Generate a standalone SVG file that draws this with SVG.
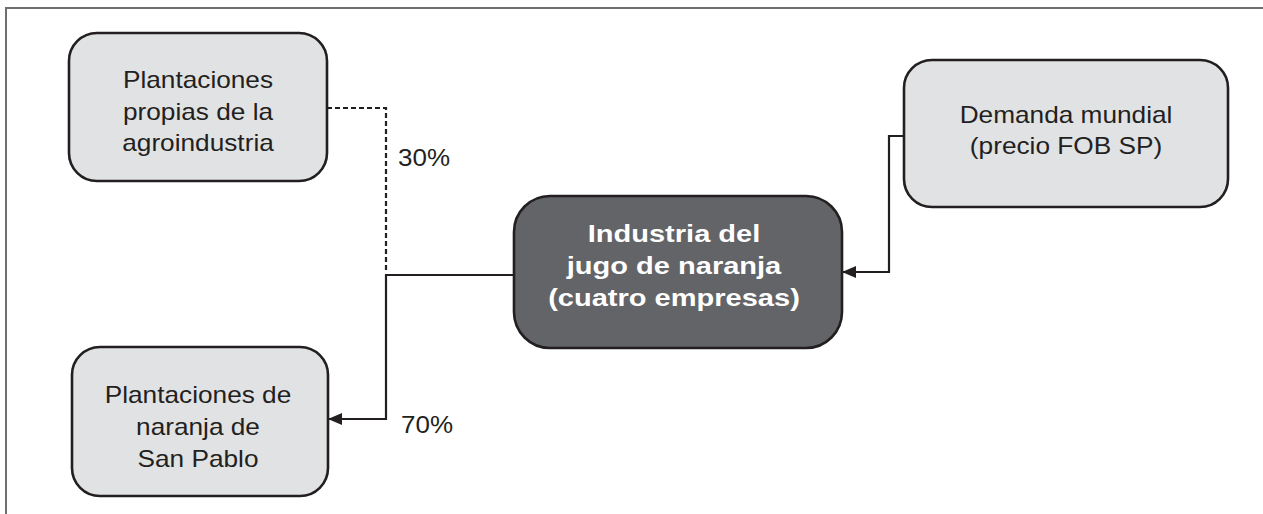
<svg xmlns="http://www.w3.org/2000/svg" width="1263" height="514" viewBox="0 0 1263 514">
<defs>
<style>
.frame{fill:none;stroke:#6d6e70;stroke-width:2}
.light{fill:#e1e2e4;stroke:#231f20;stroke-width:2.6}
.dark{fill:#636467;stroke:#231f20;stroke-width:2.6}
.t{font-family:"Liberation Sans",Arial,sans-serif;font-size:23px;fill:#231f20;text-anchor:middle}
.tb{font-family:"Liberation Sans",Arial,sans-serif;font-size:24px;font-weight:bold;fill:#ffffff;text-anchor:middle}
.lbl{font-family:"Liberation Sans",Arial,sans-serif;font-size:23px;fill:#231f20}
.c{fill:none;stroke:#231f20;stroke-width:2.2}
.d{fill:none;stroke:#231f20;stroke-width:2.2;stroke-dasharray:5,3}
</style>
<marker id="ah2" markerWidth="14" markerHeight="14" refX="13" refY="7" orient="auto" markerUnits="userSpaceOnUse" viewBox="0 0 14 14">
<path d="M0,1 L14,7 L0,13 Z" fill="#231f20"/>
</marker>
</defs>
<rect width="1263" height="514" fill="#ffffff"/>
<path class="frame" d="M6,514 L6,8 L1263,8"/>
<g id="connectors">
<path class="d" d="M327,108 L386,108 L386,273"/>
<path class="c" d="M514,275 L386,275 L386,419 L329,419" marker-end="url(#ah2)"/>
<path class="c" d="M904,136 L889,136 L889,272 L843,272" marker-end="url(#ah2)"/>
<g transform="translate(398,0) scale(1.13,1)"><text class="lbl" x="0" y="166">30%</text></g>
<g transform="translate(401,0) scale(1.13,1)"><text class="lbl" x="0" y="433">70%</text></g>
</g>
<g id="node-propias">
<rect class="light" x="69" y="33" width="258" height="148" rx="28"/>
<g transform="translate(198,0) scale(1.14,1)">
<text class="t" x="0" y="88">Plantaciones</text>
<text class="t" x="0" y="120">propias de la</text>
<text class="t" x="0" y="151">agroindustria</text>
</g>
</g>
<g id="node-demanda">
<rect class="light" x="904" y="60" width="324" height="147" rx="28"/>
<g transform="translate(1066,0) scale(1.14,1)">
<text class="t" x="0" y="123">Demanda mundial</text>
<text class="t" x="0" y="154">(precio FOB SP)</text>
</g>
</g>
<g id="node-industria">
<rect class="dark" x="514" y="196" width="328" height="152" rx="36"/>
<g transform="translate(674,0) scale(1.21,1)">
<text class="tb" x="0" y="242">Industria del</text>
<text class="tb" x="0" y="274">jugo de naranja</text>
<text class="tb" x="0" y="306">(cuatro empresas)</text>
</g>
</g>
<g id="node-sanpablo">
<rect class="light" x="72" y="347" width="256" height="149" rx="28"/>
<g transform="translate(198,0) scale(1.14,1)">
<text class="t" x="0" y="403">Plantaciones de</text>
<text class="t" x="0" y="435">naranja de</text>
<text class="t" x="0" y="467">San Pablo</text>
</g>
</g>
</svg>
